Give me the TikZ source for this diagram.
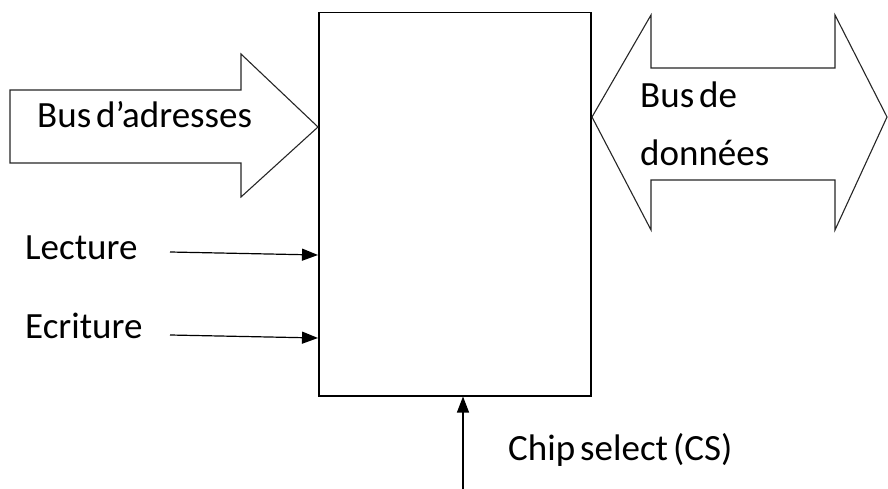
\documentclass[tikz,border=0pt]{standalone}
\usepackage{fontspec}
\setmainfont{Carlito}[WordSpace={0.6}]
\usetikzlibrary{arrows.meta}
\begin{document}
\begin{tikzpicture}[x=1pt,y=-1pt,
  lbl/.style={inner sep=0pt,anchor=base west,font=\fontsize{37}{40}\selectfont},
  bus/.style={draw=black!85,line width=1.1pt,line join=miter,fill=white},
  sig/.style={draw,line width=1.2pt,-{Triangle[length=16pt,width=12pt]}}]
\useasboundingbox (0,0) rectangle (888,489);
% memory block
\node[draw,line width=1.5pt,minimum width=272pt,minimum height=383pt,inner sep=0pt,anchor=north west] (mem) at (318,12) {};
% address bus arrow
\draw[bus] (10,90) -- (241,90) -- (241,54) -- (318,127) -- (241,197) -- (241,163) -- (10,163) -- cycle;
\node[lbl] (addr) at (37,128) {Bus d’adresses};
% data bus arrow
\draw[bus] (592,117) -- (651,15) -- (651,68) -- (835,68) -- (835,15) -- (887,117) -- (835,230) -- (835,180) -- (651,180) -- (651,230) -- cycle;
\node[lbl] (data1) at (640,108) {Bus de};
\node[lbl] (data2) at (640,166) {données};
% control signals
\node[lbl] (lect) at (25,259) {Lecture};
\node[lbl] (ecr) at (25,338) {Ecriture};
\coordinate (lectA) at (170,252);
\coordinate (lectB) at (318,255);
\coordinate (ecrA) at (170,335);
\coordinate (ecrB) at (318,338);
\draw[sig] (lectA) -- (lectB);
\draw[sig] (ecrA) -- (ecrB);
% chip select
\coordinate (csA) at (463,489);
\draw[sig] (csA) -- (mem.south west -| csA);
\node[lbl] (cs) at (508,460) {Chip select (CS)};
\end{tikzpicture}
\end{document}
